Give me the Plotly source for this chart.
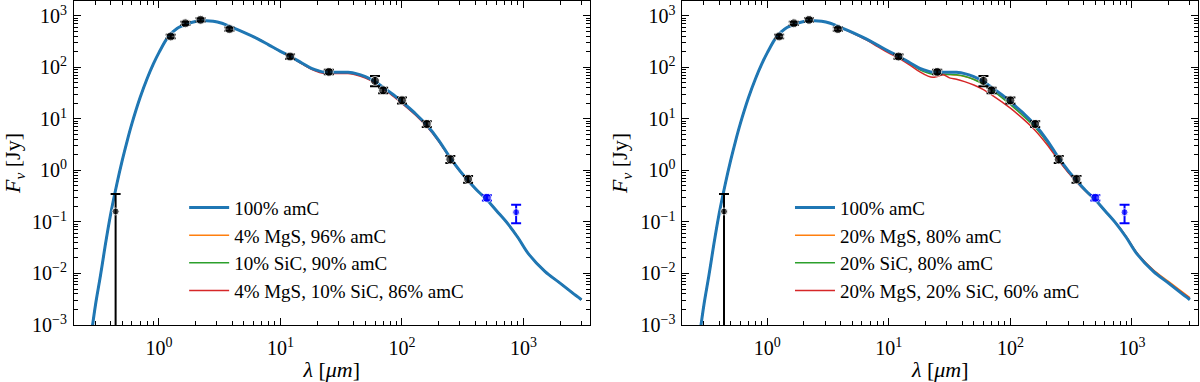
import plotly.graph_objects as go
from plotly.subplots import make_subplots

# wavelength grid (micron) where all models coincide (stellar Wien side)
lam_short = [0.27, 0.30, 0.33, 0.36, 0.40, 0.45, 0.50, 0.55, 0.60, 0.70, 0.80, 0.90, 1.0, 1.2, 1.4, 1.7]
f_short = [4e-4, 2.4e-3, 9e-3, 0.033, 0.14, 0.54, 1.6, 3.9, 8.2, 26, 61, 117, 194, 403, 565, 700]

# wavelength grid where the dust models differ
lam_long = [2.0, 2.4, 2.8, 3.3, 4.0, 5.0, 6.5, 8.0, 10, 12, 15, 18, 21, 23, 25, 28, 32, 36, 42, 50,
            60, 70, 85, 100, 130, 160, 200, 250, 300, 350, 420, 500, 600, 750, 900, 1100, 1500, 2000, 2500, 3000]

amc = [778, 805, 790, 720, 600, 480, 360, 275, 205, 165, 122, 96, 85, 81, 80, 80.5, 81, 80.5, 76, 66,
       53, 41, 29.5, 21.5, 12.5, 7.6, 3.9, 1.75, 0.98, 0.64, 0.4, 0.27, 0.165, 0.09, 0.05, 0.024, 0.011, 0.0065, 0.0043, 0.0031]

# left panel models
mgs4 = [778, 805, 790, 720, 600, 480, 360, 275, 205, 165, 122, 96, 85, 80, 78.5, 78.5, 79, 78.5, 74, 64.5,
        52, 40.2, 29, 21.2, 12.5, 7.6, 3.9, 1.75, 0.98, 0.64, 0.4, 0.27, 0.165, 0.09, 0.05, 0.024, 0.011, 0.0065, 0.0043, 0.0031]
sic10 = [778, 805, 790, 720, 600, 480, 360, 275, 203, 162, 119, 94, 82.5, 79, 78, 78, 78.5, 78, 73.5, 64,
         51.5, 40, 28.6, 20.8, 12.1, 7.35, 3.8, 1.72, 0.98, 0.64, 0.4, 0.27, 0.165, 0.09, 0.05, 0.024, 0.011, 0.0065, 0.0043, 0.0031]
mix_4_10 = [778, 805, 790, 720, 600, 480, 360, 275, 202, 160, 117, 92, 80, 76.5, 76, 76, 76.5, 76, 71.5, 62,
            50, 38.5, 27.5, 20, 11.7, 7.1, 3.7, 1.68, 0.95, 0.62, 0.4, 0.27, 0.165, 0.09, 0.05, 0.024, 0.011, 0.0065, 0.0043, 0.0031]

# right panel models
mgs20 = [778, 805, 790, 720, 600, 480, 360, 275, 205, 165, 122, 95, 83, 79, 77, 75, 73, 71, 67, 59,
         48, 37.5, 27.3, 20, 11.8, 7.2, 3.7, 1.7, 0.96, 0.63, 0.4, 0.27, 0.167, 0.092, 0.052, 0.025, 0.0118, 0.007, 0.0047, 0.0034]
sic20 = [778, 805, 790, 720, 600, 480, 360, 275, 200, 160, 117, 90, 78, 74, 73, 73, 73, 72, 67.5, 58.5,
         47, 36.5, 26, 19, 11, 6.8, 3.55, 1.62, 0.92, 0.61, 0.39, 0.265, 0.163, 0.09, 0.05, 0.0245, 0.0112, 0.0066, 0.0044, 0.0032]
mix_20_20 = [778, 805, 790, 720, 590, 465, 342, 258, 190, 152, 110, 82, 68, 64.5, 67, 72, 62, 59, 53, 45.5,
             37, 29.5, 21.5, 16.2, 9.6, 6.0, 3.2, 1.55, 0.9, 0.6, 0.385, 0.262, 0.163, 0.091, 0.051, 0.025, 0.0115, 0.0067, 0.0045, 0.0033]

# photometry
lam_obs = [0.44, 1.25, 1.65, 2.2, 3.8, 12, 25, 60, 70, 100, 160, 250, 350]
f_obs = [0.16, 400, 720, 840, 555, 163, 82, 55, 36, 23, 8.0, 1.65, 0.68]
err_up = [0.19, 30, 50, 60, 40, 15, 8, 13, 4.5, 3, 1.0, 0.25, 0.1]
err_dn = [0.1598, 30, 50, 60, 40, 15, 8, 12, 4.5, 3, 1.0, 0.25, 0.1]
size_obs = [7, 9, 9, 9, 9, 9, 9, 9, 9, 9, 9, 9, 9]

lam_sub = [500, 870]
f_sub = [0.295, 0.155]
err_sub = [0.035, 0.06]
size_sub = [9, 7]

panels = [
    [("100% amC", amc), ("4% MgS, 96% amC", mgs4), ("10% SiC, 90% amC", sic10),
     ("4% MgS, 10% SiC, 86% amC", mix_4_10)],
    [("100% amC", amc), ("20% MgS, 80% amC", mgs20), ("20% SiC, 80% amC", sic20),
     ("20% MgS, 20% SiC, 60% amC", mix_20_20)],
]
colors = ["#1f77b4", "#ff7f0e", "#2ca02c", "#d62728"]

FONT = "Liberation Serif"

fig = make_subplots(rows=1, cols=2, horizontal_spacing=0.0826)

for p, models in enumerate(panels):
    col = p + 1
    leg = "legend" if p == 0 else "legend2"
    # thin models first, thick amC on top
    for k in [1, 2, 3, 0]:
        name, vals = models[k]
        fig.add_trace(go.Scatter(
            x=lam_short + lam_long, y=f_short + vals, mode="lines", name=name,
            line=dict(color=colors[k], width=3 if k == 0 else 1.5, shape="spline"),
            legend=leg, legendrank=k + 1), row=1, col=col)
    fig.add_trace(go.Scatter(
        x=lam_obs, y=f_obs, mode="markers", showlegend=False,
        marker=dict(color="black", size=size_obs),
        error_y=dict(type="data", array=err_up, arrayminus=err_dn, color="black", thickness=2, width=5)),
        row=1, col=col)
    fig.add_trace(go.Scatter(
        x=lam_sub, y=f_sub, mode="markers", showlegend=False,
        marker=dict(color="#0000ff", size=size_sub),
        error_y=dict(type="data", array=err_sub, color="#0000ff", thickness=2, width=5)),
        row=1, col=col)

x_minor = [m * 10 ** e for e in range(-1, 4) for m in range(2, 10)]
y_minor = [m * 10.0 ** e for e in range(-3, 4) for m in range(2, 10)]

axis_common = dict(type="log", showline=True, linecolor="black", linewidth=1, mirror="ticks",
                   ticks="inside", ticklen=7, tickcolor="black", showgrid=False, zeroline=False,
                   tickfont=dict(family=FONT, size=20, color="black"))

for c in [1, 2]:
    fig.update_xaxes(axis_common, row=1, col=c,
                     range=[-0.699, 3.544],
                     tickvals=[1, 10, 100, 1000],
                     ticktext=["10<sup>0</sup>", "10<sup>1</sup>", "10<sup>2</sup>", "10<sup>3</sup>"],
                     ticklabelstandoff=5,
                     minor=dict(tickmode="array", tickvals=x_minor, ticks="inside", ticklen=4,
                                tickcolor="black", showgrid=False),
                     title=dict(text="<i>λ</i> [<i>μm</i>]", font=dict(family=FONT, size=22, color="black"),
                                standoff=3))
    fig.update_yaxes(axis_common, row=1, col=c,
                     range=[-3, 3.29],
                     tickvals=[1e-3, 1e-2, 1e-1, 1, 10, 100, 1000],
                     ticktext=["10<sup>−3</sup>", "10<sup>−2</sup>", "10<sup>−1</sup>", "10<sup>0</sup>",
                               "10<sup>1</sup>", "10<sup>2</sup>", "10<sup>3</sup>"],
                     ticklabelstandoff=2,
                     minor=dict(tickmode="array", tickvals=y_minor, ticks="inside", ticklen=4,
                                tickcolor="black", showgrid=False),
                     title=dict(text="<i>F<sub>ν</sub></i> [Jy]", font=dict(family=FONT, size=22, color="black"),
                                standoff=6))

legend_style = dict(font=dict(family=FONT, size=19, color="black"), bgcolor="rgba(0,0,0,0)",
                    xanchor="left", yanchor="top", traceorder="normal", itemwidth=40)

fig.update_layout(
    width=1200, height=382,
    margin=dict(l=74, r=2, t=1, b=57),
    paper_bgcolor="white", plot_bgcolor="white",
    font=dict(family=FONT, color="black"),
    legend=dict(legend_style, x=0.098, y=0.421),
    legend2=dict(legend_style, x=0.637, y=0.421),
)

fig.write_html("out.html", config={"displayModeBar": False},
               post_script="document.body.style.margin='0';")
